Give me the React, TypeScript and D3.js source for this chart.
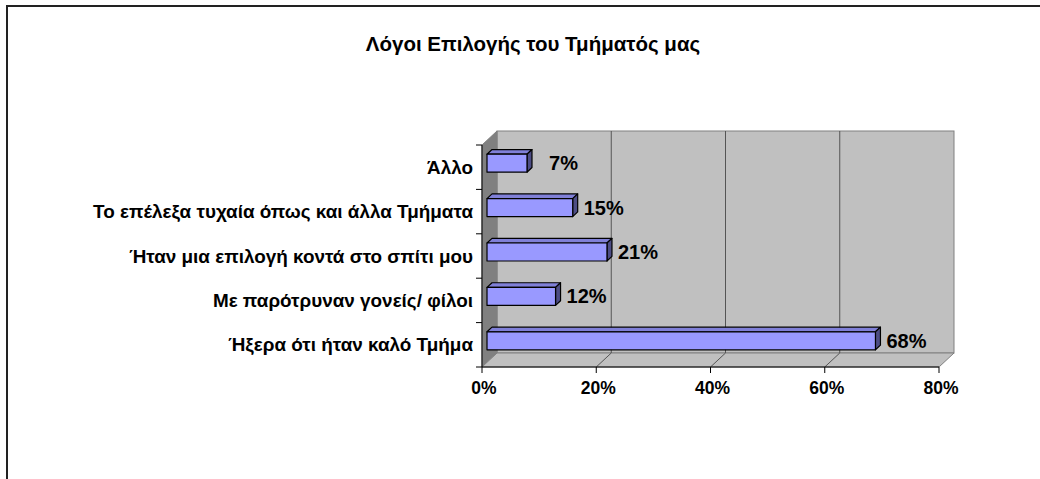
import React from "react";
import * as d3 from "d3";

const title = "Λόγοι Επιλογής του Τμήματός μας";
const categories = [
  "Άλλο",
  "Το επέλεξα τυχαία όπως και άλλα Τμήματα",
  "Ήταν μια επιλογή κοντά στο σπίτι μου",
  "Με παρότρυναν γονείς/ φίλοι",
  "Ήξερα ότι ήταν καλό Τμήμα",
];
const values = [0.07, 0.15, 0.21, 0.12, 0.68];
const ticks = [0, 0.2, 0.4, 0.6, 0.8];

const W = 1040;
const H = 479;
const FONT = "'Liberation Sans', Arial, sans-serif";

export default function App() {
  const x = d3.scaleLinear().domain([0, 0.8]).range([482, 939]);
  const y = d3.scaleBand<string>().domain(categories).range([145, 367]).padding(0);
  const DX = 15;
  const DY = -14;
  const bx = DX / 3;
  const by = DY / 3;
  const barH = 18;
  const fmt = d3.format(".0%");

  const x0 = x(0);
  const x1 = x(0.8);
  const yTop = 145;
  const yBot = 367;

  const pts = (a: number[][]) => a.map((p) => p.join(",")).join(" ");

  return (
    <svg
      width={W}
      height={H}
      style={{ position: "absolute", left: 0, top: 0, background: "#fff" }}
      fontFamily={FONT}
    >
      <rect x={7} y={6} width={1060} height={500} fill="#fff" stroke="#222" strokeWidth={2} />
      <text x={533} y={43} textAnchor="middle" dominantBaseline="central" fontWeight="bold" fontSize={20.5}>
        {title}
      </text>

      {/* back wall */}
      <rect
        x={x0 + DX}
        y={yTop + DY}
        width={x1 - x0}
        height={yBot - yTop}
        fill="#c0c0c0"
        stroke="#808080"
        strokeWidth={1}
      />
      {/* side wall */}
      <polygon
        points={pts([
          [x0, yTop],
          [x0 + DX, yTop + DY],
          [x0 + DX, yBot + DY],
          [x0, yBot],
        ])}
        fill="#808080"
        stroke="#808080"
      />
      {/* floor */}
      <polygon
        points={pts([
          [x0, yBot],
          [x0 + DX, yBot + DY],
          [x1 + DX, yBot + DY],
          [x1, yBot],
        ])}
        fill="#c0c0c0"
        stroke="#808080"
      />
      {/* gridlines */}
      {ticks.slice(1, -1).map((t) => (
        <g key={t} stroke="#555" strokeWidth={1}>
          <line x1={x(t) + DX} x2={x(t) + DX} y1={yTop + DY} y2={yBot + DY} />
          <line x1={x(t) + DX} x2={x(t)} y1={yBot + DY} y2={yBot} />
        </g>
      ))}

      {/* axes */}
      <line x1={x0} x2={x0} y1={yTop} y2={yBot} stroke="#000" />
      {[...categories.map((c) => y(c)!), yBot].map((v, i) => (
        <line key={i} x1={x0 - 6} x2={x0} y1={v} y2={v} stroke="#000" />
      ))}
      <line x1={x0} x2={x1} y1={yBot} y2={yBot} stroke="#000" />
      {ticks.map((t) => (
        <g key={t}>
          <line x1={x(t)} x2={x(t)} y1={yBot} y2={yBot + 6} stroke="#000" />
          <text
            x={x(t) + 2}
            y={388}
            textAnchor="middle"
            dominantBaseline="central"
            fontWeight="bold"
            fontSize={17.5}
          >
            {fmt(t)}
          </text>
        </g>
      ))}

      {/* category labels */}
      {categories.map((c) => (
        <text
          key={c}
          x={473}
          y={y(c)! + y.bandwidth() / 2}
          textAnchor="end"
          dominantBaseline="central"
          fontWeight="bold"
          fontSize={18.9}
        >
          {c}
        </text>
      ))}

      {/* bars */}
      {categories.map((c, i) => {
        const v = values[i];
        const cy = y(c)! + y.bandwidth() / 2 - 4;
        const fx0 = x(0) + bx;
        const fx1 = x(v) + bx;
        const fy0 = cy - barH / 2;
        const fy1 = cy + barH / 2;
        return (
          <g key={c} stroke="#000" strokeWidth={1.2} strokeLinejoin="round">
            <polygon
              points={pts([
                [fx0, fy0],
                [fx0 + bx, fy0 + by],
                [fx1 + bx, fy0 + by],
                [fx1, fy0],
              ])}
              fill="#8080d8"
            />
            <polygon
              points={pts([
                [fx1, fy0],
                [fx1 + bx, fy0 + by],
                [fx1 + bx, fy1 + by],
                [fx1, fy1],
              ])}
              fill="#4d4d85"
            />
            <rect x={fx0} y={fy0} width={fx1 - fx0} height={barH} fill="#9999ff" />
            <text
              x={fx1 + 51}
              y={cy}
              textAnchor="end"
              dominantBaseline="central"
              fontWeight="bold"
              fontSize={20}
              stroke="none"
              fill="#000"
            >
              {fmt(v)}
            </text>
          </g>
        );
      })}
    </svg>
  );
}
